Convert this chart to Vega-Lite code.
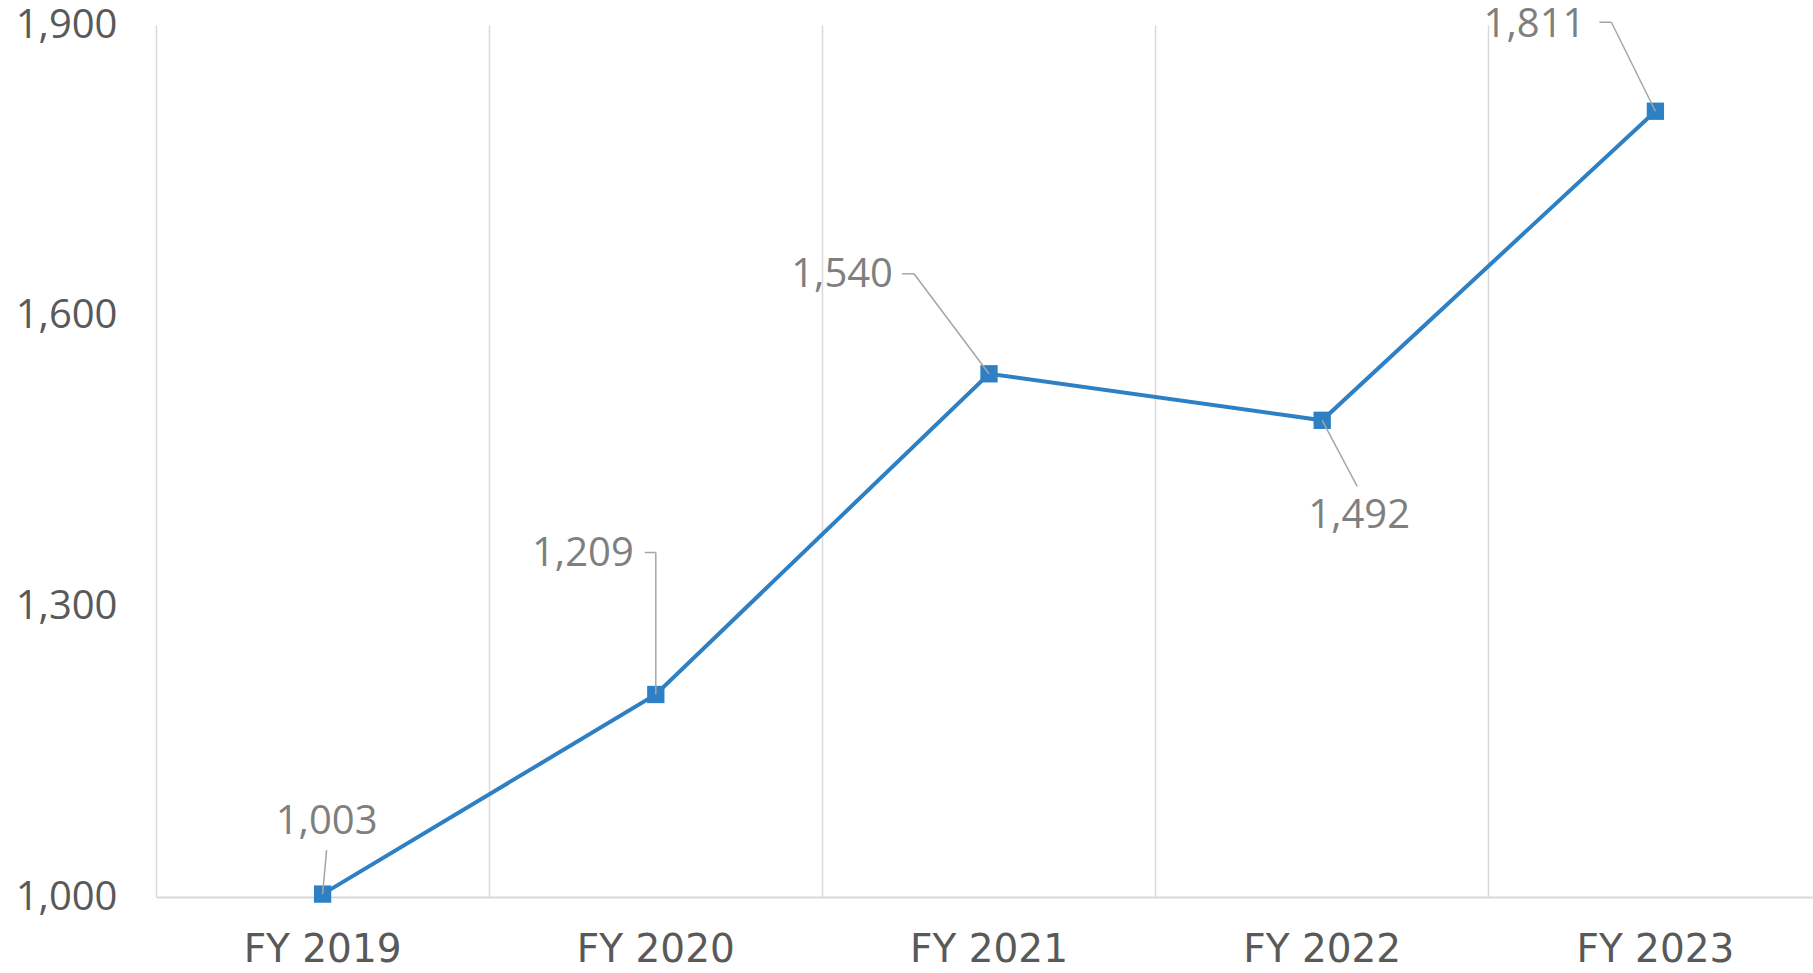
{
  "$schema": "https://vega.github.io/schema/vega-lite/v6.json",
  "autosize": {"type": "none"},
  "padding": {"left": 156, "top": 25, "right": 0, "bottom": 76},
  "width": 1657,
  "height": 872,
  "background": "white",
  "config": {"view": {"stroke": null}, "font": "Open Sans"},
  "data": {"values": [
    {"year": "FY 2019", "value": 1003},
    {"year": "FY 2020", "value": 1209},
    {"year": "FY 2021", "value": 1540},
    {"year": "FY 2022", "value": 1492},
    {"year": "FY 2023", "value": 1811}
  ]},
  "encoding": {
    "x": {"field": "year", "type": "ordinal", "sort": null, "axis": null,
      "scale": {"type": "band", "range": [0, 1666], "paddingInner": 0, "paddingOuter": 0}},
    "y": {"field": "value", "type": "quantitative",
      "scale": {"domain": [1000, 1900], "nice": false, "zero": false},
      "axis": {"title": null, "values": [1000, 1300, 1600, 1900], "format": ",d",
        "grid": false, "ticks": false, "tickSize": 0, "domain": false,
        "labelPadding": 39, "labelFontSize": 40, "labelColor": "#595959", "labelFont": "Open Sans"}}
  },
  "layer": [
    {
      "mark": {"type": "line", "color": "#2E80C4", "strokeWidth": 4},
      "encoding": {
        "x": {"field": "year", "type": "ordinal", "sort": null,
          "axis": {"orient": "bottom", "title": null, "labels": false, "ticks": false, "tickSize": 0,
            "grid": true, "gridColor": "#d9d9d9", "gridWidth": 1.5, "bandPosition": 0,
            "domain": true, "domainColor": "#d9d9d9", "domainWidth": 2}}
      }
    },
    {
      "mark": {"type": "point", "shape": "square", "size": 300, "filled": true, "color": "#2E80C4", "opacity": 1},
      "encoding": {
        "x": {"field": "year", "type": "ordinal", "sort": null,
          "axis": {"orient": "bottom", "title": null, "grid": false, "ticks": false, "tickSize": 0, "domain": false,
            "labelAngle": 0, "labelPadding": 33, "labelFontSize": 39, "labelColor": "#595959", "labelFont": "DejaVu Sans"}}
      }
    },
    {"transform": [{"filter": "datum.year == 'FY 2019'"}],
     "mark": {"type": "rule", "color": "#a6a6a6", "strokeWidth": 1.5, "xOffset": 0, "yOffset": 0, "x2Offset": 4, "y2Offset": -44},
     "encoding": {"x2": {"field": "year"}, "y2": {"field": "value"}}},
    {"transform": [{"filter": "datum.year == 'FY 2019'"}],
     "mark": {"type": "text", "align": "center", "baseline": "middle", "dx": 4, "dy": -72, "fontSize": 40, "color": "#7f7f7f", "font": "Open Sans"},
     "encoding": {"text": {"field": "value", "format": ","}}},

    {"transform": [{"filter": "datum.year == 'FY 2020'"}],
     "mark": {"type": "rule", "color": "#a6a6a6", "strokeWidth": 1.5, "xOffset": 0, "yOffset": 0, "x2Offset": 0, "y2Offset": -142},
     "encoding": {"x2": {"field": "year"}, "y2": {"field": "value"}}},
    {"transform": [{"filter": "datum.year == 'FY 2020'"}],
     "mark": {"type": "rule", "color": "#a6a6a6", "strokeWidth": 1.5, "xOffset": 0, "yOffset": -142, "x2Offset": -11, "y2Offset": -142},
     "encoding": {"x2": {"field": "year"}, "y2": {"field": "value"}}},
    {"transform": [{"filter": "datum.year == 'FY 2020'"}],
     "mark": {"type": "text", "align": "right", "baseline": "middle", "dx": -22, "dy": -141, "fontSize": 40, "color": "#7f7f7f", "font": "Open Sans"},
     "encoding": {"text": {"field": "value", "format": ","}}},

    {"transform": [{"filter": "datum.year == 'FY 2021'"}],
     "mark": {"type": "rule", "color": "#a6a6a6", "strokeWidth": 1.5, "xOffset": 0, "yOffset": 0, "x2Offset": -75, "y2Offset": -100},
     "encoding": {"x2": {"field": "year"}, "y2": {"field": "value"}}},
    {"transform": [{"filter": "datum.year == 'FY 2021'"}],
     "mark": {"type": "rule", "color": "#a6a6a6", "strokeWidth": 1.5, "xOffset": -75, "yOffset": -100, "x2Offset": -87, "y2Offset": -100},
     "encoding": {"x2": {"field": "year"}, "y2": {"field": "value"}}},
    {"transform": [{"filter": "datum.year == 'FY 2021'"}],
     "mark": {"type": "text", "align": "right", "baseline": "middle", "dx": -96, "dy": -99, "fontSize": 40, "color": "#7f7f7f", "font": "Open Sans"},
     "encoding": {"text": {"field": "value", "format": ","}}},

    {"transform": [{"filter": "datum.year == 'FY 2022'"}],
     "mark": {"type": "rule", "color": "#a6a6a6", "strokeWidth": 1.5, "xOffset": 0, "yOffset": 0, "x2Offset": 35, "y2Offset": 66},
     "encoding": {"x2": {"field": "year"}, "y2": {"field": "value"}}},
    {"transform": [{"filter": "datum.year == 'FY 2022'"}],
     "mark": {"type": "text", "align": "center", "baseline": "middle", "dx": 37, "dy": 96, "fontSize": 40, "color": "#7f7f7f", "font": "Open Sans"},
     "encoding": {"text": {"field": "value", "format": ","}}},

    {"transform": [{"filter": "datum.year == 'FY 2023'"}],
     "mark": {"type": "rule", "color": "#a6a6a6", "strokeWidth": 1.5, "xOffset": 0, "yOffset": 0, "x2Offset": -44, "y2Offset": -89},
     "encoding": {"x2": {"field": "year"}, "y2": {"field": "value"}}},
    {"transform": [{"filter": "datum.year == 'FY 2023'"}],
     "mark": {"type": "rule", "color": "#a6a6a6", "strokeWidth": 1.5, "xOffset": -44, "yOffset": -89, "x2Offset": -56, "y2Offset": -89},
     "encoding": {"x2": {"field": "year"}, "y2": {"field": "value"}}},
    {"transform": [{"filter": "datum.year == 'FY 2023'"}],
     "mark": {"type": "text", "align": "right", "baseline": "middle", "dx": -70, "dy": -86, "fontSize": 40, "color": "#7f7f7f", "font": "Open Sans"},
     "encoding": {"text": {"field": "value", "format": ","}}}
  ],
  "resolve": {"axis": {"x": "independent"}}
}
